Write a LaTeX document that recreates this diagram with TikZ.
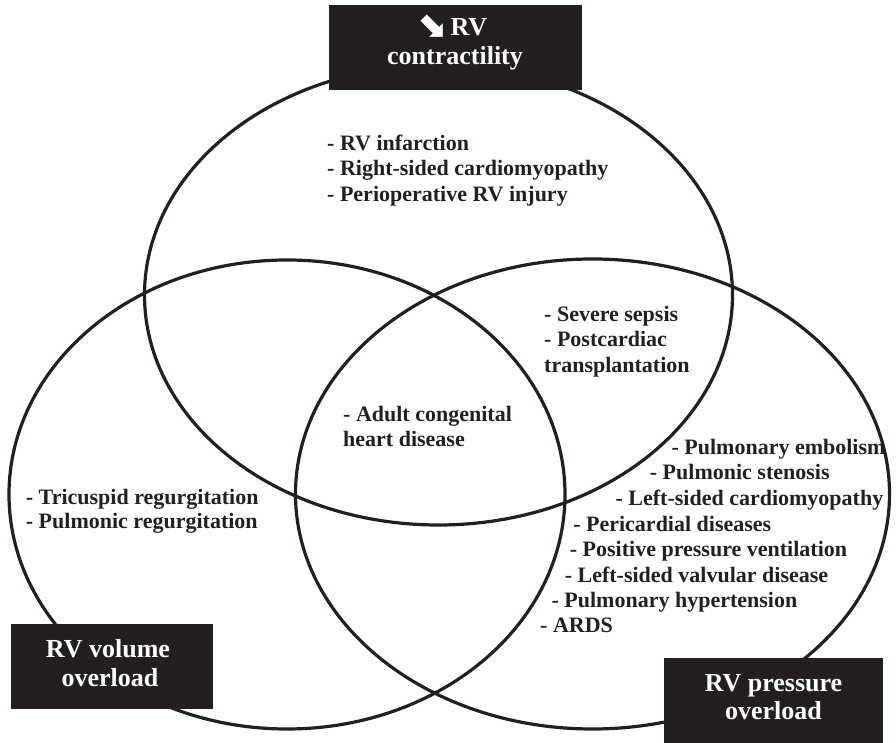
\documentclass[tikz,border=0pt]{standalone}
\usepackage{fontspec}
\setmainfont{Liberation Serif}
\newfontfamily\symfont{DejaVu Sans}
\definecolor{ink}{HTML}{231F20}
\begin{document}
\begin{tikzpicture}[x=1pt,y=1pt,
  ring/.style={draw=ink,line width=3.2pt},
  titlebox/.style={fill=ink,draw=none},
  item/.style={anchor=base west,inner sep=0pt,text=ink,font=\fontsize{22}{25.5}\selectfont\bfseries},
  title/.style={anchor=base,inner sep=0pt,text=white,font=\fontsize{26}{29}\selectfont\bfseries}]
\useasboundingbox (0,0) rectangle (896,743);
% circles
\draw[ring] (438.5,448) ellipse [x radius=294, y radius=230];
\draw[ring] (287,248.5) ellipse [x radius=278, y radius=234.5];
\draw[ring] (592.5,249) ellipse [x radius=297, y radius=235];
% title boxes
\begin{scope}
\clip (0,0) rectangle (896,743);
\fill[titlebox] (329,653) rectangle (582,738);
\fill[titlebox] (11,34) rectangle (213,119);
\fill[titlebox] (664,-5) rectangle (883,85);
\end{scope}
\node[title] (c1) at (451.7,707) {{\symfont\fontsize{36}{36}\selectfont\raisebox{-1pt}{⬊}}\,RV};
\node[title] (c2) at (455,678) {contractility};
\node[title] (v1) at (108,85) {RV volume};
\node[title] (v2) at (110,56) {overload};
\node[title] (r1) at (773.5,51.3) {RV pressure};
\node[title] (r2) at (773.5,23) {overload};
% top list
\node[item] (t1) at (327,592.8) {- RV infarction};
\node[item] (t2) at (327,567.3) {- Right-sided cardiomyopathy};
\node[item] (t3) at (327,541.8) {- Perioperative RV injury};
% top-right overlap
\node[item] (s1) at (544,421.5) {- Severe sepsis};
\node[item] (s2) at (544,396.3) {- Postcardiac};
\node[item] (s3) at (544,370.5) {transplantation};
% centre
\node[item] (a1) at (343,321.6) {- Adult congenital};
\node[item] (a2) at (343,296.6) {heart disease};
% left
\node[item] (l1) at (25.7,238.5) {- Tricuspid regurgitation};
\node[item] (l2) at (25.7,214) {- Pulmonic regurgitation};
% right
\node[item] (p1) at (671.4,288.6) {- Pulmonary embolism};
\node[item] (p2) at (649.7,263.5) {- Pulmonic stenosis};
\node[item] (p3) at (615.4,237.6) {- Left-sided cardiomyopathy};
\node[item] (p4) at (573.1,211.6) {- Pericardial diseases};
\node[item] (p5) at (569.7,186.6) {- Positive pressure ventilation};
\node[item] (p6) at (564.6,160.6) {- Left-sided valvular disease};
\node[item] (p7) at (551.4,135.1) {- Pulmonary hypertension};
\node[item] (p8) at (540,110) {- ARDS};
\end{tikzpicture}
\end{document}
